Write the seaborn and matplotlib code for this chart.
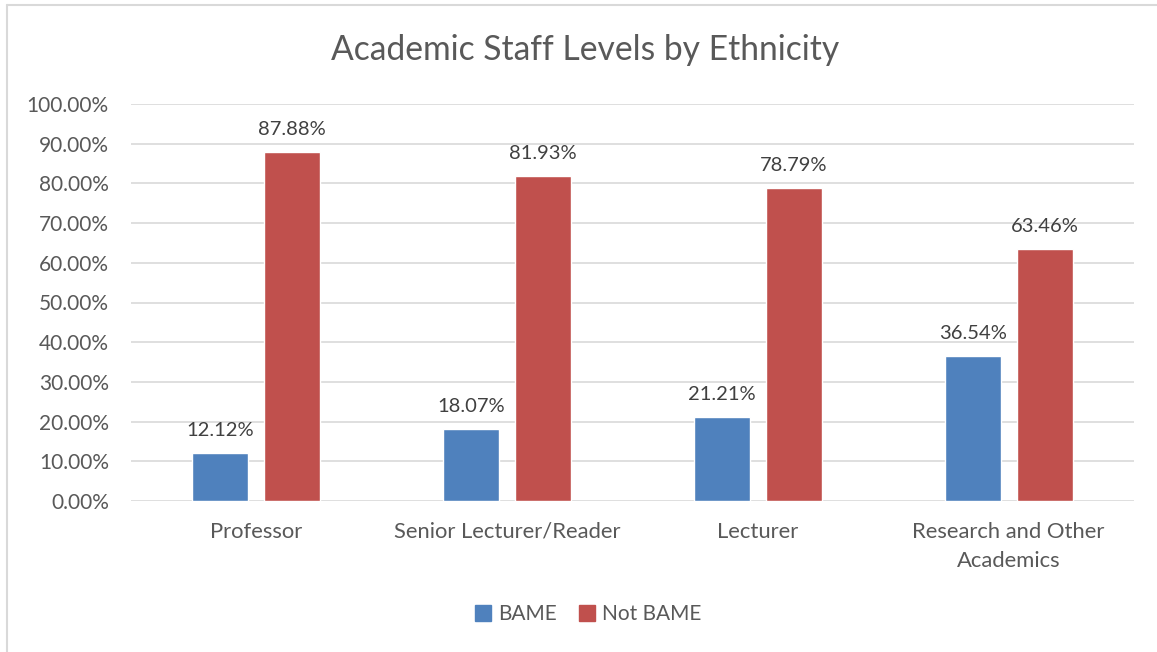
import matplotlib
matplotlib.use("Agg")
import matplotlib.pyplot as plt
from matplotlib.lines import Line2D
from matplotlib.ticker import FuncFormatter
import seaborn as sns
import pandas as pd

# Chart data
categories = ["Professor", "Senior Lecturer/Reader", "Lecturer",
              "Research and Other\nAcademics"]
groups = ["BAME", "Not BAME"]
bame = [12.12, 18.07, 21.21, 36.54]
not_bame = [87.88, 81.93, 78.79, 63.46]
y_ticks = [0, 10, 20, 30, 40, 50, 60, 70, 80, 90, 100]

df = pd.DataFrame({
    "Level": categories * 2,
    "Group": [groups[0]] * len(categories) + [groups[1]] * len(categories),
    "Share": bame + not_bame,
})

sns.set_theme(style="white")
plt.rcParams["font.family"] = ["Lato", "DejaVu Sans"]

TEXT = "#595959"
GRID = "#d9d9d9"
palette = {"BAME": "#4f81bd", "Not BAME": "#c0504d"}

fig = plt.figure(figsize=(11.57, 6.52), dpi=100)
ax = fig.add_axes([131 / 1157, 1 - 501 / 652, (1134 - 131) / 1157, (501 - 104) / 652])

sns.barplot(data=df, x="Level", y="Share", hue="Group", order=categories,
            hue_order=groups, palette=palette, width=0.574, gap=0.223,
            saturation=1, legend=False, ax=ax)

ax.set_xlim(-0.5, len(categories) - 0.5)
ax.set_ylim(0, 100)
ax.set_yticks(y_ticks)
ax.yaxis.set_major_formatter(FuncFormatter(lambda v, _: f"{v:.2f}%"))
ax.grid(axis="y", color=GRID, linewidth=1.2)
ax.set_axisbelow(True)
for s in ax.spines.values():
    s.set_visible(False)
ax.tick_params(axis="both", length=0, colors=TEXT)
ax.tick_params(axis="y", pad=16, labelsize=15)
ax.tick_params(axis="x", pad=15, labelsize=15.8)
for lbl in ax.get_xticklabels():
    lbl.set_linespacing(1.6)
ax.set_xlabel("")
ax.set_ylabel("")

for container in ax.containers:
    ax.bar_label(container, labels=[f"{v:.2f}%" for v in container.datavalues],
                 padding=10, fontsize=14.5, color="#404040")

fig.text(585 / 1157, 1 - 50 / 652, "Academic Staff Levels by Ethnicity",
         ha="center", va="center", fontsize=24.2, color=TEXT)

handles = [Line2D([], [], marker="s", linestyle="none", markersize=11,
                  color=palette[g]) for g in groups]
fig.legend(handles, groups, loc="center", bbox_to_anchor=(586 / 1157, 1 - 614 / 652),
           ncol=2, frameon=False, fontsize=15, labelcolor=TEXT,
           handletextpad=0.15, columnspacing=0.8, handlelength=1.2)

# Outer chart frame (top and left edges)
fig.add_artist(Line2D([7 / 1157, 1], [1 - 5 / 652, 1 - 5 / 652],
                      transform=fig.transFigure, color=GRID, linewidth=1.5))
fig.add_artist(Line2D([7 / 1157, 7 / 1157], [0, 1 - 5 / 652],
                      transform=fig.transFigure, color=GRID, linewidth=1.5))

fig.savefig("out.png", dpi=100, facecolor="white")
